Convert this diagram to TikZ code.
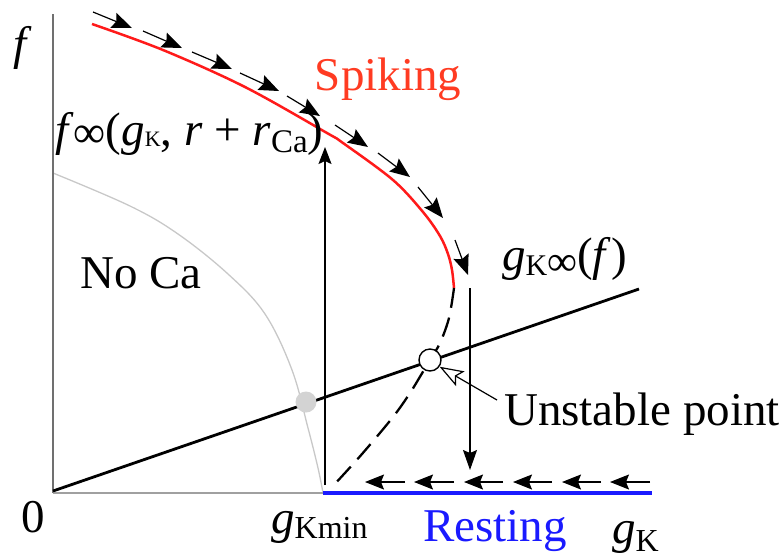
\documentclass[tikz,border=0pt]{standalone}
\usepackage{fontspec}
\setmainfont{Liberation Serif}
\newfontfamily\tms{Liberation Serif}
\usetikzlibrary{arrows.meta}
\definecolor{spikered}{HTML}{FF1A1A}
\definecolor{spiketext}{HTML}{FF3B22}
\definecolor{restblue}{HTML}{1A1AFF}
\definecolor{axisgray}{HTML}{707070}
\definecolor{lightaxis}{HTML}{A0A0A0}
\definecolor{nocagray}{HTML}{C8C8C8}
\definecolor{dotgray}{HTML}{D3D3D3}
\newcommand{\lbl}[3]{\raisebox{-#2pt}{\fontsize{#1}{#1}\selectfont #3}}
\begin{document}
\begin{tikzpicture}[x=1pt,y=-1pt,
  lab/.style={inner sep=0pt,font=\tms\fontsize{47}{50}\selectfont},
  flowarrow/.style={line width=1.2pt,-{Stealth[length=20pt,width=16pt,inset=3pt]}},
  restarrow/.style={line width=1.2pt,-{Stealth[length=19pt,width=15pt,inset=3pt]}},
  curvegray/.style={nocagray,line width=1.3pt},
  mainline/.style={black,line width=2.8pt},
  spikecurve/.style={spikered,line width=2.5pt},
  unstabledash/.style={black,line width=2.3pt,dash pattern=on 20pt off 10pt},
]
\useasboundingbox (0,0) rectangle (784,558);

% No Ca boundary
\draw[curvegray] plot[smooth,tension=0.6] coordinates
  {(53,173) (130,206) (178,234) (228,274) (265,314) (292,370) (308,428) (318,468) (323,493)};

% axes
\coordinate (O) at (53,493);
\coordinate (ytop) at (53,14);
\coordinate (gmin) at (323,493);
\coordinate (xend) at (652,493);
\draw[axisgray,line width=1.5pt] (ytop) -- (O);
\draw[lightaxis,line width=1.5pt] (O) -- (gmin);
\draw[restblue,line width=3.5pt] (gmin) -- (xend);

% gK-infinity line
\coordinate (ls) at (53,491);
\coordinate (le) at (639,289);
\draw[mainline] (ls) -- (le);

% spiking branch
\draw[spikecurve] plot[smooth,tension=0.55] coordinates
  {(92,24) (163,50) (245,87) (327,133) (343,143) (393,180) (423,212) (440,236) (448,254) (452,270) (454,288)};
% unstable branch
\draw[unstabledash] plot[smooth,tension=0.55] coordinates
  {(454,288) (449,318) (440,343) (430,360) (421,375) (410,393) (393,417) (362,454) (333,486)};

% flow arrows along spiking branch
\foreach \a/\b/\c/\d in {93/12/132/28, 143/31/182/48, 192/52/232/69, 240/73/279/91,
  287/96/320/116, 335/125/368/147, 378/153/410/177, 418/187/443/218, 455/240/468/275}
  \draw[flowarrow] (\a,\b) -- (\c,\d);

% resting flow arrows
\foreach \t/\s in {365/405, 414/454, 464/503, 513/552, 562/601, 610/650}
  \draw[restarrow] (\s,482) -- (\t,482);

% jumps
\coordinate (jupbot) at (325,485);
\coordinate (juptop) at (325,147);
\draw[line width=1.4pt,-{Stealth[length=17pt,width=13pt,inset=3pt]}] (jupbot) -- (juptop);
\coordinate (jdtop) at (470,288);
\coordinate (jdbot) at (470,470);
\draw[line width=1.2pt,-{Stealth[length=20pt,width=14pt,inset=3pt]}] (jdtop) -- (jdbot);

% points
\node[circle,fill=dotgray,minimum size=21pt,inner sep=0pt] (nocapt) at (306,402) {};
\node[circle,draw=black,fill=white,line width=1.4pt,minimum size=22pt,inner sep=0pt] (unst) at (430,360) {};

% labels
\node[lab,anchor=base] (flab) at (23,59) {\textit{f}};
\node[lab,anchor=base] (zero) at (33,532) {0};
\node[lab,anchor=base west] (finf) at (55,145)
  {\textit{f}\lbl{45}{2}{∞}(\textit{g}\lbl{22}{1}{K}, \textit{r} + \textit{r}\lbl{33}{7}{Ca})};
\node[lab,anchor=base,text=spiketext] (spk) at (388,90) {Spiking};
\node[lab,anchor=base] (noca) at (141,288) {No Ca};
\node[lab,anchor=base west] (ginf) at (502,270) {\textit{g}\lbl{30}{5}{K}\lbl{42}{5}{∞}(\textit{f})};
\node[lab,anchor=base west] (unlab) at (504,425) {Unstable point};
\node[lab,anchor=base west] (gkmin) at (271,533) {\textit{g}\lbl{32}{5}{Kmin}};
\node[lab,anchor=base,text=restblue] (rest) at (495,541) {Resting};
\node[lab,anchor=base west] (gk) at (612,543) {\textit{g}\lbl{32}{8}{K}};

% pointer to unstable point
\coordinate (ptr) at (497,400);
\draw[line width=1.2pt,-{Stealth[open,fill=white,length=24pt,width=17pt,inset=5pt]}] (ptr) -- (unst.-35);
\end{tikzpicture}
\end{document}
